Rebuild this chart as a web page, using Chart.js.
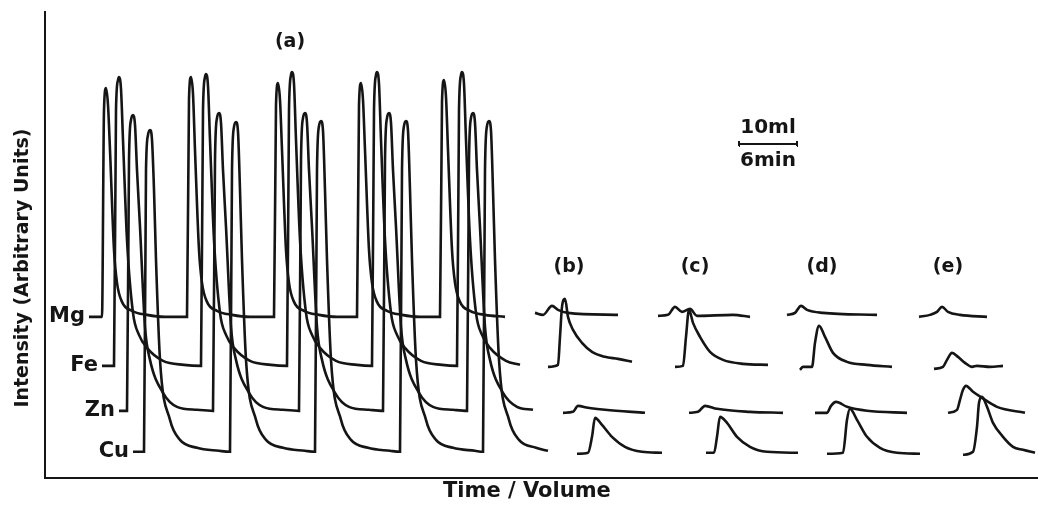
<!DOCTYPE html>
<html>
<head>
<meta charset="utf-8">
<script src="https://cdn.jsdelivr.net/npm/chart.js@4.4.1/dist/chart.umd.min.js"></script>
<style>
  html, body { margin: 0; padding: 0; background: #fff; }
  #wrap { width: 1038px; height: 505px; }
</style>
</head>
<body>
<div id="wrap"><canvas id="trace"></canvas></div>
<script>
// readings taken off the recorder trace: [time, intensity] (arbitrary units)
// each element is a list of segments: run (a) then the single runs (b)-(e)
var mgTrace = [
  [[44,161],[57,161],[59,368],[61,390],[63,373],[65,328],[69,228],[72,195],[77,176],[87,167],[102,163],[120,161],
   [142,161],[144,379],[146,401],[148,384],[150,328],[154,228],[157,195],[162,176],[172,167],[187,163],[205,161],
   [229,161],[231,373],[233,395],[235,378],[237,328],[241,228],[244,195],[249,176],[259,167],[274,163],[292,161],
   [312,161],[314,373],[316,395],[318,378],[320,328],[324,228],[327,195],[332,176],[342,167],[357,163],[375,161],
   [395,161],[397,376],[399,398],[401,381],[403,328],[407,228],[410,195],[415,176],[425,167],[440,163],[460,161]],
  [[490,165],[498,163],[507,172],[513,168],[523,165],[573,163]],
  [[613,162],[623,163],[630,171],[637,166],[645,169],[652,162],[688,163],[705,161]],
  [[742,163],[750,165],[756,172],[762,168],[778,165],[832,163]],
  [[874,161],[885,163],[892,166],[897,171],[903,166],[915,163],[942,161]]
];
var feTrace = [
  [[57,112],[69,112],[71,368],[73,398],[74,401],[76,389],[78,338],[82,238],[88,165],[94,143],[102,130],[118,117],[139,113],
   [156,112],[158,368],[160,401],[161,404],[163,392],[165,338],[169,238],[175,165],[181,143],[189,130],[205,117],[226,113],
   [242,112],[244,368],[246,403],[247,406],[249,394],[251,338],[255,238],[261,165],[267,143],[275,130],[291,117],[312,113],
   [327,112],[329,368],[331,403],[332,406],[334,394],[336,338],[340,238],[346,165],[352,143],[360,130],[376,117],[397,113],
   [412,112],[414,368],[416,403],[417,406],[419,394],[421,338],[425,238],[431,165],[437,143],[445,130],[461,117],[475,113]],
  [[503,111],[513,113],[515,141],[517,171],[520,179],[523,161],[528,148],[537,135],[547,126],[560,121],[573,119],[587,116]],
  [[630,111],[638,112],[641,141],[644,168],[648,155],[655,141],[665,126],[678,118],[698,114],[723,113]],
  [[755,108],[758,111],[767,111],[770,135],[774,152],[780,141],[788,125],[802,116],[822,113],[847,111]],
  [[889,109],[898,111],[902,118],[907,125],[913,121],[920,115],[927,111],[932,112],[945,111],[958,112]]
];
var znTrace = [
  [[74,67],[82,67],[84,318],[86,358],[88,363],[90,353],[92,308],[95,251],[100,151],[105,118],[118,85],[132,71],[152,68],
   [168,67],[170,318],[172,360],[174,365],[176,355],[178,308],[181,251],[186,151],[191,118],[204,85],[218,71],[238,68],
   [254,67],[256,318],[258,360],[260,365],[262,355],[264,308],[267,251],[272,151],[277,118],[290,85],[304,71],[324,68],
   [338,67],[340,318],[342,360],[344,365],[346,355],[348,308],[351,251],[356,151],[361,118],[374,85],[388,71],[408,68],
   [422,67],[424,318],[426,360],[428,365],[430,355],[432,308],[435,251],[440,151],[445,118],[458,85],[472,71],[488,68]],
  [[518,65],[528,66],[533,72],[543,70],[560,68],[600,65]],
  [[644,65],[653,66],[660,72],[672,69],[705,66],[738,65]],
  [[770,65],[782,65],[786,72],[791,76],[802,71],[822,67],[862,65]],
  [[903,65],[912,68],[915,78],[918,88],[921,92],[928,86],[937,80],[952,71],[980,65]]
];
var cuTrace = [
  [[88,26],[99,26],[101,308],[103,343],[105,348],[107,338],[109,288],[111,218],[115,118],[125,58],[135,38],[152,30],[174,27],
   [185,26],[187,308],[189,351],[191,356],[193,346],[195,288],[197,218],[201,118],[211,58],[221,38],[238,30],[260,27],
   [270,26],[272,308],[274,352],[276,357],[278,347],[280,288],[282,218],[286,118],[296,58],[306,38],[323,30],[345,27],
   [355,26],[357,308],[359,352],[361,357],[363,347],[365,288],[367,218],[371,118],[381,58],[391,38],[408,30],[430,27],
   [438,26],[440,308],[442,352],[444,357],[446,347],[448,288],[450,218],[454,118],[464,58],[474,38],[491,30],[503,27]],
  [[532,24],[543,25],[547,41],[550,60],[557,53],[567,41],[580,31],[597,26],[617,25]],
  [[661,25],[669,25],[672,41],[675,61],[682,55],[692,41],[705,31],[722,26],[753,25]],
  [[782,24],[798,25],[802,58],[805,69],[812,58],[822,41],[835,30],[852,25],[875,24]],
  [[918,23],[928,26],[932,51],[934,75],[937,81],[942,71],[948,55],[958,41],[968,31],[978,28],[990,25]]
];

var elements = ['Mg', 'Fe', 'Zn', 'Cu'];
var runLabels = ['(a)', '(b)', '(c)', '(d)', '(e)'];
var runLabelAt = [[245,436],[524,211],[650,211],[777,211],[903,211]];
// scale bar: 10 ml of eluent = 6 min
var scaleBar = [[694,334],[752,334]];
var scaleBarText = ['10ml', '6min'];

function toPoints(segments) {
  var pts = [];
  segments.forEach(function (seg, i) {
    if (i > 0) pts.push({ x: seg[0][0] - 1, y: null });
    seg.forEach(function (p) { pts.push({ x: p[0], y: p[1] }); });
  });
  return pts;
}

var ink = '#151515';
var traces = [mgTrace, feTrace, znTrace, cuTrace];

var datasets = traces.map(function (tr, i) {
  return {
    label: elements[i],
    data: toPoints(tr),
    borderColor: ink,
    borderWidth: 2.6,
    pointRadius: 0,
    cubicInterpolationMode: 'monotone',
    spanGaps: false,
    fill: false
  };
});

var bx0 = scaleBar[0][0], bx1 = scaleBar[1][0], by = scaleBar[0][1];
datasets.push({
  label: 'scale',
  data: [{x: bx0, y: by}, {x: bx1, y: by}, {x: bx1 + 0.5, y: null},
         {x: bx0, y: by - 2}, {x: bx0 + 0.01, y: by + 3}, {x: bx0 + 0.5, y: null},
         {x: bx1, y: by - 2}, {x: bx1 + 0.01, y: by + 3}],
  borderColor: ink,
  borderWidth: 2,
  pointRadius: 0,
  tension: 0,
  spanGaps: false
});

var textPlugin = {
  id: 'traceText',
  afterDatasetsDraw: function (chart) {
    var ctx = chart.ctx, xs = chart.scales.x, ys = chart.scales.y;
    ctx.save();
    ctx.fillStyle = ink;
    ctx.textBaseline = 'middle';
    ctx.font = 'bold 21px "DejaVu Sans"';
    ctx.textAlign = 'right';
    traces.forEach(function (tr, i) {
      var p = tr[0][0];
      ctx.fillText(elements[i], xs.getPixelForValue(p[0]) - 4, ys.getPixelForValue(p[1]));
    });
    ctx.textAlign = 'center';
    ctx.font = 'bold 19px "DejaVu Sans"';
    runLabels.forEach(function (t, i) {
      ctx.fillText(t, xs.getPixelForValue(runLabelAt[i][0]), ys.getPixelForValue(runLabelAt[i][1]));
    });
    ctx.font = 'bold 20px "DejaVu Sans"';
    var cx = xs.getPixelForValue((bx0 + bx1) / 2), cy = ys.getPixelForValue(by);
    ctx.fillText(scaleBarText[0], cx, cy - 16);
    ctx.fillText(scaleBarText[1], cx, cy + 17);
    ctx.restore();
  }
};

new Chart(document.getElementById('trace'), {
  type: 'line',
  data: { datasets: datasets },
  options: {
    responsive: true,
    maintainAspectRatio: false,
    animation: false,
    layout: { padding: { left: 11.6, top: 12, right: 0, bottom: 0 } },
    plugins: { legend: { display: false }, tooltip: { enabled: false } },
    scales: {
      x: {
        type: 'linear', min: 0, max: 993,
        ticks: { display: false },
        grid: { display: false, drawTicks: false },
        border: { display: true, color: ink, width: 2 },
        title: { display: true, text: 'Time / Volume    ', color: ink,
                 font: { family: 'DejaVu Sans', size: 21, weight: 'bold' },
                 padding: { top: 1, bottom: 1 } }
      },
      y: {
        type: 'linear', min: 0, max: 466,
        ticks: { display: false },
        grid: { display: false, drawTicks: false },
        border: { display: true, color: ink, width: 2 },
        title: { display: true, text: 'Intensity (Arbitrary Units)       ', color: ink,
                 font: { family: 'DejaVu Sans', size: 19, weight: 'bold' },
                 padding: { top: 0, bottom: 10.6 } }
      }
    }
  },
  plugins: [textPlugin]
});
</script>
</body>
</html>
